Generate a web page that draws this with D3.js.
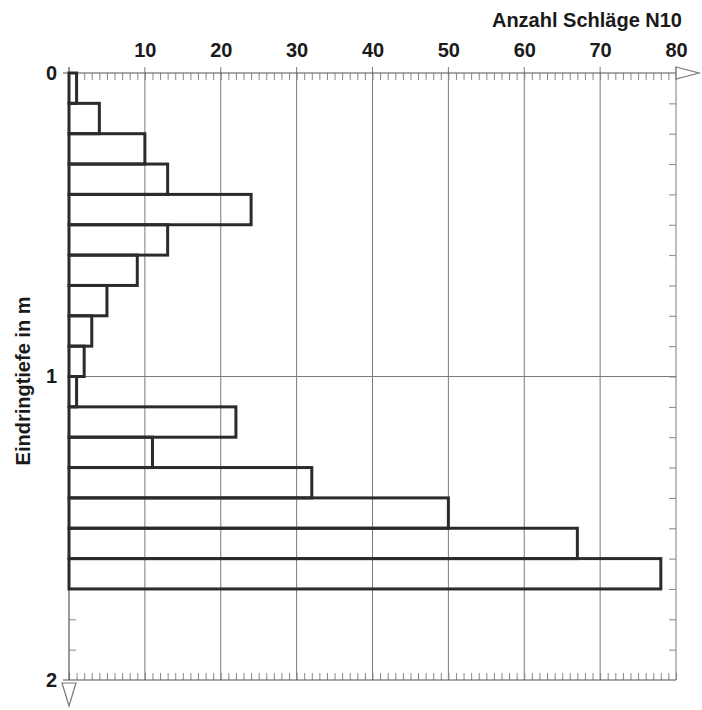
<!doctype html>
<html>
<head>
<meta charset="utf-8">
<style>
  * { margin: 0; padding: 0; }
  body { background: #fff; }
  svg text { font-family: "Liberation Sans", Arial, sans-serif; fill: #1a1a1a; }
</style>
</head>
<body>
<div id="main"></div>
<script src="https://d3js.org/d3.v7.min.js"></script>
<script>
// depth of each layer top (m) and blow count N10 per 10 cm
var depthTop = [0.0, 0.1, 0.2, 0.3, 0.4, 0.5, 0.6, 0.7, 0.8, 0.9, 1.0, 1.1, 1.2, 1.3, 1.4, 1.5, 1.6]
var blows    = [1, 4, 10, 13, 24, 13, 9, 5, 3, 2, 1, 22, 11, 32, 50, 67, 78]
var layerHeight = 0.1
var xTicks = [10, 20, 30, 40, 50, 60, 70, 80]
var yTicks = [0, 1, 2]

var width = 702, height = 710
var svg = d3.select('#main').append('svg').attr('width', width).attr('height', height)

var x = d3.scaleLinear().domain([0, 80]).range([69, 676])
var y = d3.scaleLinear().domain([0, 2]).range([73, 680])

var gridColor = '#7a7a7a'
var labelFont = '"Liberation Sans", Arial, sans-serif'

// grid lines
svg.append('g').selectAll('line').data(xTicks.slice(0, -1)).enter().append('line')
  .attr('x1', function(d){ return x(d) }).attr('x2', function(d){ return x(d) })
  .attr('y1', y(0) - 6).attr('y2', y(2))
  .attr('stroke', gridColor).attr('stroke-width', 1)

svg.append('line')
  .attr('x1', x(0)).attr('x2', x(80)).attr('y1', y(1)).attr('y2', y(1))
  .attr('stroke', gridColor).attr('stroke-width', 1)

// right frame line
svg.append('line')
  .attr('x1', x(80)).attr('x2', x(80)).attr('y1', y(0) - 6).attr('y2', y(2))
  .attr('stroke', gridColor).attr('stroke-width', 1)

// minor ticks top / bottom
var minorX = d3.range(0, 81)
svg.append('g').attr('transform', 'translate(0,' + y(0) + ')')
  .call(d3.axisTop(x).tickValues(minorX).tickSize(-7).tickFormat(''))
  .call(function(g){ g.selectAll('line').attr('stroke', '#888'); g.select('.domain').remove() })
svg.append('g').attr('transform', 'translate(0,' + y(2) + ')')
  .call(d3.axisBottom(x).tickValues(minorX).tickSize(-7).tickFormat(''))
  .call(function(g){ g.selectAll('line').attr('stroke', '#888'); g.select('.domain').remove() })

// minor ticks left / right
var minorY = d3.range(1, 20).map(function(i){ return i / 10 })
svg.append('g').attr('transform', 'translate(' + x(0) + ',0)')
  .call(d3.axisLeft(y).tickValues(minorY).tickSize(-7).tickFormat(''))
  .call(function(g){ g.selectAll('line').attr('stroke', '#888'); g.select('.domain').remove() })
svg.append('g').attr('transform', 'translate(' + x(80) + ',0)')
  .call(d3.axisRight(y).tickValues(minorY).tickSize(-7).tickFormat(''))
  .call(function(g){ g.selectAll('line').attr('stroke', '#888'); g.select('.domain').remove() })

// axis lines
svg.append('line').attr('x1', x(0) - 6).attr('x2', x(80)).attr('y1', y(0)).attr('y2', y(0))
  .attr('stroke', '#555').attr('stroke-width', 1.2)
svg.append('line').attr('x1', x(0) - 6).attr('x2', x(80)).attr('y1', y(2)).attr('y2', y(2))
  .attr('stroke', '#555').attr('stroke-width', 1.2)
svg.append('line').attr('x1', x(0)).attr('x2', x(0)).attr('y1', y(0) - 6).attr('y2', y(2))
  .attr('stroke', '#555').attr('stroke-width', 1.2)

// arrows (open triangles)
svg.append('path')
  .attr('d', 'M' + x(80) + ',' + (y(0) - 6) + 'L' + (x(80) + 23) + ',' + y(0) + 'L' + x(80) + ',' + (y(0) + 6) + 'Z')
  .attr('fill', '#fff').attr('stroke', '#777').attr('stroke-width', 1.2)
svg.append('path')
  .attr('d', 'M' + (x(0) - 7) + ',' + (y(2) + 3) + 'L' + x(0) + ',' + (y(2) + 26) + 'L' + (x(0) + 7) + ',' + (y(2) + 3) + 'Z')
  .attr('fill', '#fff').attr('stroke', '#777').attr('stroke-width', 1.2)

// bars
svg.append('g').selectAll('rect').data(blows).enter().append('rect')
  .attr('x', x(0))
  .attr('y', function(d, i){ return y(depthTop[i]) })
  .attr('width', function(d){ return x(d) - x(0) })
  .attr('height', function(d, i){ return y(depthTop[i] + layerHeight) - y(depthTop[i]) })
  .attr('fill', 'none').attr('stroke', '#2b2b2b').attr('stroke-width', 3)

// tick labels
svg.append('g').attr('transform', 'translate(0,' + y(0) + ')')
  .call(d3.axisTop(x).tickValues(xTicks).tickSize(0).tickPadding(16))
  .call(function(g){
    g.select('.domain').remove()
    g.selectAll('text').attr('font-size', 20).attr('font-weight', 'bold')
      .attr('font-family', labelFont).attr('fill', '#1a1a1a')
  })
svg.append('g').attr('transform', 'translate(' + x(0) + ',0)')
  .call(d3.axisLeft(y).tickValues(yTicks).tickSize(0).tickPadding(12).tickFormat(d3.format('d')))
  .call(function(g){
    g.select('.domain').remove()
    g.selectAll('text').attr('font-size', 20).attr('font-weight', 'bold')
      .attr('font-family', labelFont).attr('fill', '#1a1a1a')
  })

// titles
svg.append('text').attr('x', 682).attr('y', 27).attr('text-anchor', 'end')
  .attr('font-size', 20).attr('font-weight', 'bold').text('Anzahl Schläge N10')
svg.append('text').attr('transform', 'translate(30,381) rotate(-90)').attr('text-anchor', 'middle')
  .attr('font-size', 20).attr('font-weight', 'bold').text('Eindringtiefe in m')
</script>
</body>
</html>
